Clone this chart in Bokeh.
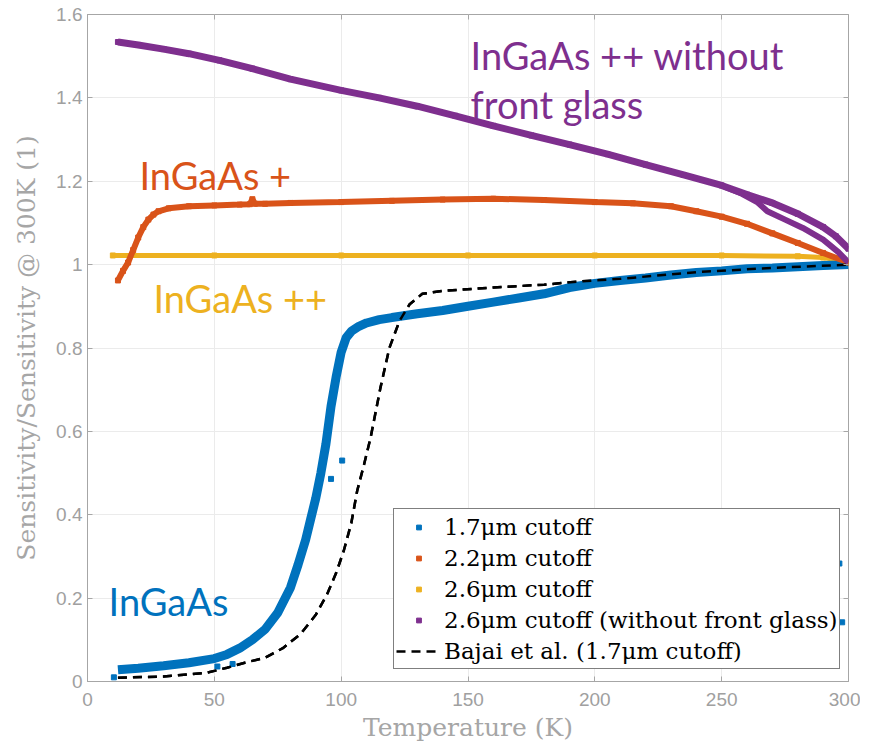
from bokeh.plotting import figure
from bokeh.models import Legend, LegendItem, FixedTicker, CustomJSTickFormatter, LinearAxis
from bokeh.core.properties import value
from bokeh.embed import file_html
from bokeh.resources import INLINE

# ---------------- data ----------------
x_ticks = [0, 50, 100, 150, 200, 250, 300]
y_ticks = [0, 0.2, 0.4, 0.6, 0.8, 1.0, 1.2, 1.4, 1.6]

# 1.7 um cutoff (InGaAs)
blue_T = [12, 20, 30, 40, 50, 55, 60, 65, 70, 75, 80, 83, 86, 88, 90, 92, 94, 96, 98, 100,
          102, 104, 107, 110, 115, 120, 130, 140, 150, 160, 170, 180, 190, 200, 210, 220,
          230, 240, 250, 260, 270, 280, 290, 300]
blue_v = [0.028, 0.032, 0.038, 0.045, 0.055, 0.065, 0.08, 0.10, 0.125, 0.165, 0.225, 0.28,
          0.34, 0.39, 0.44, 0.50, 0.57, 0.66, 0.73, 0.79, 0.825, 0.84, 0.852, 0.86, 0.868,
          0.873, 0.882, 0.89, 0.90, 0.91, 0.92, 0.93, 0.945, 0.955, 0.962, 0.968, 0.975,
          0.981, 0.985, 0.99, 0.992, 0.995, 0.998, 1.0]
blue_out_T = [10.4, 51.2, 57.2, 96.0, 100.4, 296.4, 297.5]
blue_out_v = [0.01, 0.036, 0.042, 0.486, 0.53, 0.283, 0.142]

# 2.2 um cutoff (InGaAs +)
orange_T = [12, 14, 16, 18, 20, 22, 24, 26, 28, 32, 40, 50, 60, 64, 65, 66, 70, 80, 100,
            120, 140, 160, 180, 200, 215, 230, 240, 250, 260, 270, 280, 290, 300]
orange_v = [0.962, 0.985, 1.005, 1.035, 1.065, 1.09, 1.108, 1.12, 1.128, 1.135, 1.14, 1.142,
            1.144, 1.145, 1.157, 1.146, 1.146, 1.148, 1.15, 1.153, 1.156, 1.158, 1.155, 1.15,
            1.147, 1.14, 1.128, 1.115, 1.098, 1.075, 1.052, 1.028, 1.005]

# 2.6 um cutoff (InGaAs ++)
yellow_T = [10, 50, 100, 150, 200, 250, 280, 290, 295, 300]
yellow_v = [1.022, 1.022, 1.022, 1.022, 1.022, 1.022, 1.02, 1.017, 1.012, 1.003]

# 2.6 um cutoff without front glass (InGaAs ++ without front glass)
purple_T = [12, 20, 30, 40, 52, 65, 80, 100, 115, 130, 145, 160, 175, 190, 205, 220, 235,
            250, 260, 270, 280, 290, 295, 300]
purple_v = [1.534, 1.527, 1.517, 1.506, 1.49, 1.47, 1.445, 1.418, 1.40, 1.38, 1.357, 1.333,
            1.31, 1.288, 1.265, 1.24, 1.215, 1.19, 1.168, 1.148, 1.122, 1.09, 1.068, 1.038]
purple_b_T = [250, 258, 264, 268, 275, 282, 290, 296, 300]
purple_b_v = [1.19, 1.17, 1.15, 1.128, 1.108, 1.088, 1.06, 1.03, 1.005]

# Bajai et al. (1.7 um cutoff)
bajai_T = [12, 30, 47, 55, 62, 70, 77, 84, 90, 94.5, 98, 101, 104, 106.3, 109, 111.6, 115.5,
           119, 123, 127, 132, 140, 160, 180, 195, 210, 240, 270, 300]
bajai_v = [0.009, 0.012, 0.021, 0.033, 0.045, 0.057, 0.08, 0.114, 0.16, 0.21, 0.26, 0.313,
           0.38, 0.457, 0.52, 0.585, 0.705, 0.80, 0.865, 0.905, 0.93, 0.937, 0.945, 0.952,
           0.96, 0.966, 0.982, 0.992, 1.0]

legend_labels = ["1.7\u03bcm cutoff", "2.2\u03bcm cutoff", "2.6\u03bcm cutoff",
                 "2.6\u03bcm cutoff (without front glass)", "Bajai et al. (1.7\u03bcm cutoff)"]

notes = ["InGaAs ++ without", "front glass", "InGaAs +", "InGaAs ++", "InGaAs"]
notes_T = [151, 151, 20.5, 26, 8.3]
notes_v = [1.502, 1.386, 1.214, 0.919, 0.192]

BLUE, ORANGE, YELLOW, PURPLE = "#0072BD", "#D95319", "#EDB120", "#7E2F8E"
notes_col = [PURPLE, PURPLE, ORANGE, YELLOW, BLUE]
AX = "#a6a6a6"

# ---------------- figure ----------------
p = figure(width=860, height=745, x_range=(0, 300), y_range=(0, 1.6),
           output_backend="svg", toolbar_location=None,
           min_border_left=87, min_border_right=12, min_border_top=14, min_border_bottom=64)

p.background_fill_color = "white"
p.border_fill_color = "white"
p.outline_line_color = AX
p.outline_line_width = 1

p.xaxis.ticker = FixedTicker(ticks=x_ticks)
p.yaxis.ticker = FixedTicker(ticks=y_ticks)
p.yaxis.formatter = CustomJSTickFormatter(code="return String(Math.round(tick*10)/10)")
for ax in (p.xaxis, p.yaxis):
    ax.axis_line_color = AX
    ax.major_tick_line_color = AX
    ax.major_tick_in = 5
    ax.major_tick_out = 0
    ax.minor_tick_line_color = None
    ax.major_label_text_color = "#a0a0a0"
    ax.major_label_text_font = "Liberation Sans"
    ax.major_label_text_font_size = "19px"
    ax.axis_label_text_color = AX
    ax.axis_label_text_font = "DejaVu Serif"
    ax.axis_label_text_font_size = "25px"
    ax.axis_label_text_font_style = "normal"
p.xaxis.axis_label = "Temperature (K)"
p.yaxis.axis_label = "Sensitivity/Sensitivity @ 300K (1)"
p.xaxis.major_label_standoff = 11
p.yaxis.major_label_standoff = 5
p.xaxis.axis_label_standoff = 4
p.yaxis.axis_label_standoff = 12

# box ticks on top and right (no labels)
blank = CustomJSTickFormatter(code="return ''")
top_ax = LinearAxis(ticker=FixedTicker(ticks=x_ticks), axis_line_color=None,
                    major_tick_line_color=AX, major_tick_in=5, major_tick_out=0,
                    minor_tick_line_color=None, formatter=blank, major_label_standoff=0)
right_ax = LinearAxis(ticker=FixedTicker(ticks=y_ticks), axis_line_color=None,
                      major_tick_line_color=AX, major_tick_in=5, major_tick_out=0,
                      minor_tick_line_color=None, formatter=blank, major_label_standoff=0)
p.add_layout(top_ax, "above")
p.add_layout(right_ax, "right")

p.grid.grid_line_color = "#ebebeb"
p.grid.grid_line_width = 1

# ---------------- series ----------------
r_yel = p.scatter(yellow_T, yellow_v, marker="square", size=5, color=YELLOW)
p.line(yellow_T, yellow_v, line_color=YELLOW, line_width=5)

p.line(bajai_T, bajai_v, line_color="black", line_width=2.5, line_dash="9 6")

r_blue = p.scatter(blue_out_T, blue_out_v, marker="square", size=5, color=BLUE)
p.line(blue_T, blue_v, line_color=BLUE, line_width=9)

r_or = p.scatter(orange_T, orange_v, marker="square", size=5, color=ORANGE)
p.line(orange_T, orange_v, line_color=ORANGE, line_width=6)

r_pur = p.scatter(purple_T, purple_v, marker="square", size=5, color=PURPLE)
p.line(purple_T, purple_v, line_color=PURPLE, line_width=7)
p.line(purple_b_T, purple_b_v, line_color=PURPLE, line_width=6)

r_baj = p.line(bajai_T, bajai_v, line_color="black", line_width=2.5, line_dash="9 6")

# ---------------- annotations ----------------
for t, x, y, c in zip(notes, notes_T, notes_v, notes_col):
    p.text(x=[x], y=[y], text=[t], text_color=c, text_font=value("Lato"),
           text_font_size="38px", text_align="left", text_baseline="alphabetic")

# ---------------- legend ----------------
legend = Legend(items=[
    LegendItem(label=legend_labels[0], renderers=[r_blue]),
    LegendItem(label=legend_labels[1], renderers=[r_or]),
    LegendItem(label=legend_labels[2], renderers=[r_yel]),
    LegendItem(label=legend_labels[3], renderers=[r_pur]),
    LegendItem(label=legend_labels[4], renderers=[r_baj]),
], location=(306, 12))
legend.border_line_color = "black"
legend.border_line_width = 1
legend.background_fill_color = "white"
legend.background_fill_alpha = 1
legend.label_text_font = "DejaVu Serif"
legend.label_text_font_size = "23px"
legend.label_text_color = "black"
legend.padding = 2
legend.spacing = 0
legend.margin = 0
legend.glyph_width = 45
legend.glyph_height = 12
legend.label_height = 31
legend.label_standoff = 3
p.add_layout(legend, "center")

open("out.html", "w").write(file_html(p, INLINE))
